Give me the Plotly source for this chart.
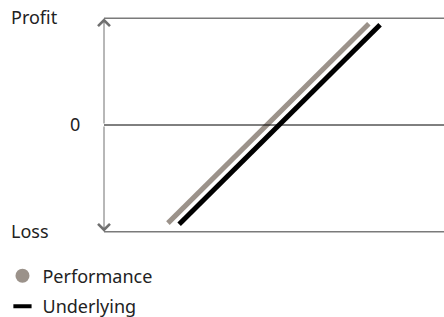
import plotly.graph_objects as go

# Data
y_tick_values = [1, 0, -1]
y_tick_labels = ["Profit", "0", "Loss"]

performance_x = [18.8, 77.9]
performance_y = [-0.92, 0.95]
underlying_x = [22.1, 81.2]
underlying_y = [-0.93, 0.94]

series_names = ["Performance", "Underlying"]
PERF_COLOR = "#9b928a"
UND_COLOR = "#000000"
FONT = "Noto Sans"
TEXT_COLOR = "#222222"
FS = 18

fig = go.Figure()

fig.add_trace(go.Scatter(x=performance_x, y=performance_y, mode="lines",
                         line=dict(color=PERF_COLOR, width=5), showlegend=False,
                         hoverinfo="skip"))
fig.add_trace(go.Scatter(x=underlying_x, y=underlying_y, mode="lines",
                         line=dict(color=UND_COLOR, width=5), showlegend=False,
                         hoverinfo="skip"))

# legend entries
fig.add_trace(go.Scatter(x=[None], y=[None], mode="markers", name=series_names[0],
                         legendgroup="a",
                         marker=dict(symbol="circle", size=14, color=PERF_COLOR)))
fig.add_trace(go.Scatter(x=[None], y=[None], mode="markers", name=series_names[1],
                         legendgroup="b",
                         marker=dict(symbol="line-ew", size=13,
                                     line=dict(color=UND_COLOR, width=4))))

shapes = []
# horizontal reference lines
for v in y_tick_values:
    shapes.append(dict(type="line", xref="paper", x0=0, x1=1, yref="y", y0=v, y1=v,
                       line=dict(color="#000000" if v == 0 else "#7a7a7a",
                                 width=1 if v == 0 else 1.5)))
fig.update_layout(shapes=shapes)

annotations = []
# vertical axis with arrows at both ends
for end in (max(y_tick_values), min(y_tick_values)):
    annotations.append(dict(x=0, y=end, xref="x", yref="y", ax=0, ay=0,
                            axref="x", ayref="y", text="", showarrow=True,
                            arrowhead=4, arrowsize=2.3, arrowwidth=1,
                            arrowcolor="#707070"))
# axis labels
label_pos = {"Profit": (-0.276, "left"), "0": (-0.085, "center"), "Loss": (-0.276, "left")}
for v, lab in zip(y_tick_values, y_tick_labels):
    px, anc = label_pos[lab]
    annotations.append(dict(x=px, y=v, xref="paper", yref="y", text=lab,
                            showarrow=False, xanchor=anc, yanchor="middle",
                            borderpad=0, yshift=1,
                            font=dict(family=FONT, size=FS, color=TEXT_COLOR)))
fig.update_layout(annotations=annotations)

fig.update_layout(
    width=444, height=317,
    margin=dict(l=104, r=0, t=13, b=80, autoexpand=False),
    paper_bgcolor="white", plot_bgcolor="white",
    xaxis=dict(range=[0, 100], visible=False, fixedrange=True),
    yaxis=dict(range=[-1.05, 1.05], visible=False, fixedrange=True),
    font=dict(family=FONT, size=FS, color=TEXT_COLOR),
    legend=dict(xref="paper", yref="paper", x=-0.2986, y=-0.391,
                xanchor="left", yanchor="bottom", tracegroupgap=4,
                font=dict(family=FONT, size=FS, color=TEXT_COLOR),
                bgcolor="rgba(0,0,0,0)"),
)

# remove the default page margin so the figure fills the window
fig.write_html("out.html",
               config={"displayModeBar": False},
               post_script="document.body.style.margin='0';"
                           "document.body.style.overflow='hidden';")
